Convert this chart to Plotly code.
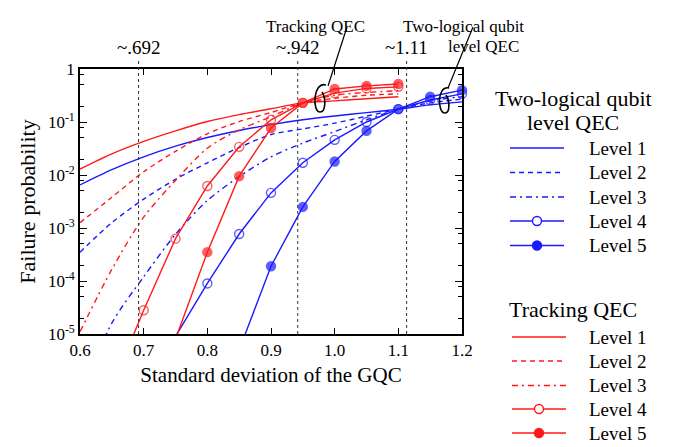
import plotly.graph_objects as go

# ---------------- data ----------------
x_blue = [0.60, 0.65, 0.70, 0.75, 0.80, 0.85, 0.90, 0.95, 1.00, 1.05, 1.10, 1.15, 1.20]
blue_l1 = [6.5e-3, 1.26e-2, 2.2e-2, 3.5e-2, 5.1e-2, 6.9e-2, 8.9e-2, 0.11, 0.13, 0.15, 0.175, 0.21, 0.24]
blue_l2 = [3.5e-4, 1.26e-3, 3.5e-3, 8.3e-3, 1.7e-2, 3.3e-2, 5.8e-2, 7.4e-2, 9.5e-2, 0.129, 0.175, 0.23, 0.27]
blue_l3 = [6.3e-7, 1.6e-5, 1.2e-4, 7.6e-4, 3.3e-3, 9.3e-3, 2.2e-2, 4.0e-2, 6.6e-2, 0.11, 0.175, 0.25, 0.30]
x_blue_l4 = [0.75, 0.80, 0.85, 0.90, 0.95, 1.00, 1.05, 1.10, 1.15, 1.20]
blue_l4 = [9e-6, 9e-5, 7.7e-4, 4.6e-3, 1.7e-2, 4.6e-2, 0.10, 0.175, 0.26, 0.34]
x_blue_l5 = [0.85, 0.90, 0.95, 1.00, 1.05, 1.10, 1.15, 1.20]
blue_l5 = [5e-6, 1.9e-4, 2.5e-3, 1.8e-2, 6.8e-2, 0.175, 0.30, 0.40]

x_red = [0.60, 0.65, 0.70, 0.75, 0.80, 0.85, 0.90, 0.95, 1.00, 1.05, 1.10]
red_l1 = [1.29e-2, 2.5e-2, 4.3e-2, 6.8e-2, 0.102, 0.138, 0.178, 0.23, 0.25, 0.275, 0.30]
red_l2 = [1.26e-3, 3.8e-3, 1.15e-2, 2.8e-2, 6.0e-2, 0.102, 0.151, 0.23, 0.28, 0.32, 0.34]
red_l3 = [1.1e-5, 1.66e-4, 1.6e-3, 7.9e-3, 3.2e-2, 7.1e-2, 0.126, 0.23, 0.32, 0.36, 0.39]
x_red_l4 = [0.65, 0.70, 0.75, 0.80, 0.85, 0.90, 0.95, 1.00, 1.05, 1.10]
red_l4 = [1e-6, 2.8e-5, 6.3e-4, 6.2e-3, 3.4e-2, 0.11, 0.23, 0.35, 0.43, 0.46]
x_red_l5 = [0.75, 0.80, 0.85, 0.90, 0.95, 1.00, 1.05, 1.10]
red_l5 = [8e-6, 3.5e-4, 9.5e-3, 7.7e-2, 0.23, 0.42, 0.48, 0.52]

thresholds = [0.692, 0.942, 1.113]
threshold_labels = ["~.692", "~.942", "~1.11"]

x_ticks = [0.6, 0.7, 0.8, 0.9, 1.0, 1.1, 1.2]
y_ticks = [1, 1e-1, 1e-2, 1e-3, 1e-4, 1e-5]
y_ticktext = ["1", "10<sup>-1</sup>", "10<sup>-2</sup>", "10<sup>-3</sup>", "10<sup>-4</sup>", "10<sup>-5</sup>"]
level_names = ["Level 1", "Level 2", "Level 3", "Level 4", "Level 5"]

# ---------------- styles ----------------
FONT = "Liberation Serif"
BLUE = "#1a1aff"
RED = "#ff1a1a"
LW = 1.4
DASH = ["solid", "5px,4px", "6px,4px,2px,4px", "solid", "solid"]
YMIN = 1e-5

# page has an 8px body margin: the figure starts at (8, 8) of the window
OFF = 8
W, H = 684 - OFF, 447 - OFF
L, R, T, B = 80 - OFF, 222, 69 - OFF, 113
PW, PH = W - L - R, H - T - B


def px(xp):
    """window pixel x -> paper x"""
    return (xp - OFF - L) / PW


def py(yp):
    """window pixel y -> paper y"""
    return (H - B - (yp - OFF)) / PH


fig = go.Figure()


def add_curve(xs, ys, color, dash):
    fig.add_trace(go.Scatter(x=xs, y=ys, mode="lines", line=dict(color=color, width=LW, dash=dash,
                                                                  shape="spline", smoothing=0.8),
                             showlegend=False, hoverinfo="skip"))


def add_marked(xs, ys, color, filled):
    sizes = [9 if v >= YMIN else 0 for v in ys]
    fig.add_trace(go.Scatter(x=xs, y=ys, mode="lines+markers", cliponaxis=False,
                             line=dict(color=color, width=LW),
                             marker=dict(symbol="circle" if filled else "circle-open", size=sizes,
                                         color=color, line=dict(color=color, width=1.4)),
                             showlegend=False, hoverinfo="skip"))


add_curve(x_blue, blue_l1, BLUE, DASH[0])
add_curve(x_blue, blue_l2, BLUE, DASH[1])
add_curve(x_blue, blue_l3, BLUE, DASH[2])
add_curve(x_red, red_l1, RED, DASH[0])
add_curve(x_red, red_l2, RED, DASH[1])
add_curve(x_red, red_l3, RED, DASH[2])
add_marked(x_blue_l4, blue_l4, BLUE, False)
add_marked(x_blue_l5, blue_l5, BLUE, True)
add_marked(x_red_l4, red_l4, RED, False)
add_marked(x_red_l5, red_l5, RED, True)

shapes = []
annotations = []

# threshold dotted lines and labels
for xv, lab in zip(thresholds, threshold_labels):
    shapes.append(dict(type="line", xref="x", yref="paper", x0=xv, x1=xv, y0=0, y1=py(59),
                       line=dict(color="#333", width=1, dash="dot")))
    annotations.append(dict(x=xv, y=py(47), xref="x", yref="paper", text=lab, showarrow=False,
                            font=dict(family=FONT, size=19, color="black"), xanchor="center", yanchor="middle"))


def path(points_cmds):
    out = []
    for cmd, pts in points_cmds:
        coords = " ".join(f"{px(a):.4f},{py(b):.4f}" for a, b in pts)
        out.append(f"{cmd} {coords}")
    return " ".join(out)


# pointer lines with curls
for (lx0, ly0), (lx1, ly1), start, c1, c2, c3, c4, c5, c6 in [
    ((347, 27), (328, 86), (326, 85), (313, 81), (312, 112), (320, 112), (326, 112), (326, 98), (322, 92)),
    ((473, 27), (448, 88), (449, 88), (437, 85), (437, 113), (445, 113), (450, 113), (450, 101), (446, 95)),
]:
    shapes.append(dict(type="line", xref="paper", yref="paper", x0=px(lx0), y0=py(ly0), x1=px(lx1), y1=py(ly1),
                       line=dict(color="black", width=1.2)))
    shapes.append(dict(type="path", xref="paper", yref="paper",
                       path=path([("M", [start]), ("C", [c1, c2, c3]), ("C", [c4, c5, c6])]),
                       line=dict(color="black", width=1.6)))

annotations.append(dict(x=px(367), y=py(15), xref="paper", yref="paper", text="Tracking QEC", showarrow=False,
                        font=dict(family=FONT, size=17, color="black")))
annotations.append(dict(x=px(526), y=py(15), xref="paper", yref="paper", text="Two-logical qubit", showarrow=False,
                        font=dict(family=FONT, size=17, color="black")))
annotations.append(dict(x=px(521), y=py(35), xref="paper", yref="paper", text="level QEC", showarrow=False,
                        font=dict(family=FONT, size=17, color="black")))


# manual legends
def legend_block(title_lines, title_y, rows_y, color, lx0, lx1):
    for tl, ty in zip(title_lines, title_y):
        annotations.append(dict(x=px(573), y=py(ty), xref="paper", yref="paper", text=tl, showarrow=False,
                                font=dict(family=FONT, size=22, color="black"), xanchor="center", yanchor="middle"))
    for i, (name, ry) in enumerate(zip(level_names, rows_y)):
        shapes.append(dict(type="line", xref="paper", yref="paper", x0=px(lx0), x1=px(lx1), y0=py(ry), y1=py(ry),
                           line=dict(color=color, width=LW, dash=DASH[i])))
        if i >= 3:
            cx = (lx0 + lx1) / 2
            shapes.append(dict(type="circle", xref="paper", yref="paper", xsizemode="pixel", ysizemode="pixel",
                               xanchor=px(cx), yanchor=py(ry), x0=-4.5, x1=4.5, y0=-4.5, y1=4.5,
                               line=dict(color=color, width=1.4),
                               fillcolor=color if i == 4 else "white"))
        annotations.append(dict(x=px(587), y=py(ry), xref="paper", yref="paper", text=name, showarrow=False,
                                font=dict(family=FONT, size=19, color="black"), xanchor="left", yanchor="middle"))


legend_block(["Two-logical qubit", "level QEC"], [98, 123], [148, 172.5, 197, 221, 245.5], BLUE, 510, 564)
legend_block(["Tracking QEC"], [309], [337, 361, 385.5, 409, 433], RED, 512, 566)

minor_vals = []
for e in range(-5, 0):
    for m in (2, 5, 8):
        minor_vals.append(m * 10 ** e)

fig.update_layout(
    width=W, height=H,
    margin=dict(l=L, r=R, t=T, b=B),
    paper_bgcolor="white", plot_bgcolor="white",
    font=dict(family=FONT, color="black"),
    shapes=shapes, annotations=annotations,
    xaxis=dict(range=[0.6, 1.2], tickvals=x_ticks, tickformat=".1f", ticks="inside", ticklen=6,
               tickwidth=1.2, tickcolor="black", mirror="ticks", showline=True, linecolor="black",
               linewidth=1.6, showgrid=False, zeroline=False, tickfont=dict(family=FONT, size=17),
               title=dict(text="Standard deviation of the GQC", font=dict(family=FONT, size=21), standoff=8)),
    yaxis=dict(type="log", range=[-5, 0], tickvals=y_ticks, ticktext=y_ticktext, ticks="inside", ticklen=7,
               tickwidth=1.2, tickcolor="black", mirror="ticks", showline=True, linecolor="black",
               linewidth=1.6, showgrid=False, zeroline=False, tickfont=dict(family=FONT, size=17),
               minor=dict(tickvals=minor_vals, ticks="inside", ticklen=4, tickcolor="black", tickwidth=1),
               title=dict(text="Failure probability", font=dict(family=FONT, size=22), standoff=6)),
)

fig.write_html("out.html")
